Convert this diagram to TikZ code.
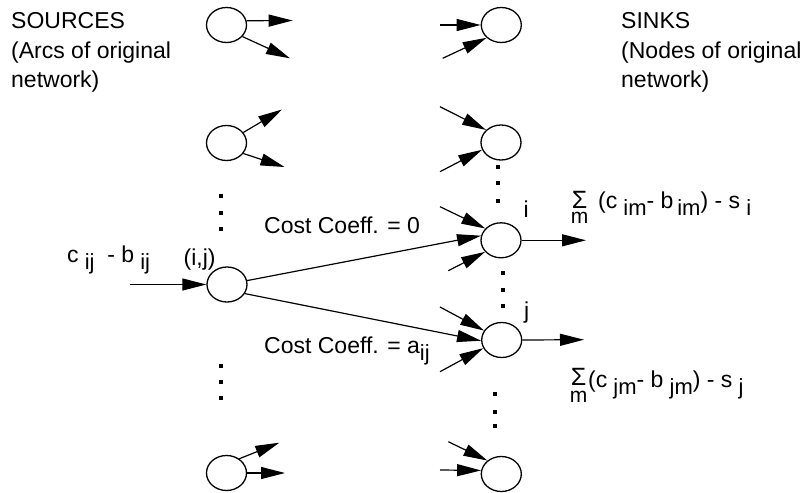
\documentclass[tikz,border=0pt]{standalone}
\usepackage{fontspec}
\setmainfont{Liberation Sans}
\usetikzlibrary{arrows.meta,shapes.geometric}
\newcommand{\dn}[1]{\raisebox{-7.5pt}{\fontsize{22}{22}\selectfont #1}}
\newcommand{\bigsig}{{\fontsize{25}{25}\selectfont Σ}}
\begin{document}
\begin{tikzpicture}[x=1pt,y=-1pt,
  ell/.style={draw, ellipse, line width=1.3pt, minimum width=40pt, minimum height=35pt, inner sep=0pt},
  arr/.style={line width=1.2pt, -{Triangle[length=24pt,width=12pt]}},
  lbl/.style={font=\fontsize{23}{29.5}\selectfont, inner sep=0pt},
  sumi/.style={font=\fontsize{21}{15}\selectfont, inner sep=0pt, align=center, anchor=north},
  sumj/.style={font=\fontsize{21}{17}\selectfont, inner sep=0pt, align=center, anchor=north},
  dotsq/.style={fill, rectangle, minimum size=4pt, inner sep=0pt}]
\useasboundingbox (0,0) rectangle (807,493);
% ellipses
\node[ell] (L1) at (226.5,25) {};
\node[ell] (L2) at (226.5,143) {};
\node[ell] (ij) at (227,284.5) {};
\node[ell] (L4) at (226.5,473) {};
\node[ell] (R1) at (501.3,25) {};
\node[ell] (R2) at (501,142.5) {};
\node[ell] (Ri) at (501,240.3) {};
\node[ell] (Rj) at (501.7,340) {};
\node[ell] (R5) at (501.3,474) {};
% free ends
\coordinate (a1) at (292.7,20.5);
\coordinate (a2) at (290,58.3);
\coordinate (a3) at (282,109.5);
\coordinate (a4) at (284.5,167);
\coordinate (a5) at (279.3,442.7);
\coordinate (a6) at (285,473);
\coordinate (b1) at (440,25);
\coordinate (b2) at (442.7,58.3);
\coordinate (b3) at (440,106.7);
\coordinate (b4) at (440,171.7);
\coordinate (b5) at (440,206.7);
\coordinate (b6) at (448.3,270.7);
\coordinate (b7) at (440,307);
\coordinate (b8) at (440,371.7);
\coordinate (b9) at (448.3,441.7);
\coordinate (b10) at (440,470);
\coordinate (oi) at (586,240.3);
\coordinate (oj) at (584,339.7);
\coordinate (in) at (130,284.5);
% source arrows
\draw[arr] (L1.12) -- (a1);
\draw[arr] (L1.-36) -- (a2);
\draw[arr] (L2.32) -- (a3);
\draw[arr] (L2.-32) -- (a4);
\draw[arr] (L4.48) -- (a5);
\draw[arr] (L4.east) -- (a6);
% sink arrows
\draw[arr] (b1) -- (R1.west);
\draw[arr] (b2) -- (R1.221);
\draw[arr] (b3) -- (R2.140);
\draw[arr] (b4) -- (R2.201);
\draw[arr] (b5) -- (Ri.143);
\draw[arr] (b6) -- (Ri.216);
\draw[arr] (b7) -- (Rj.152);
\draw[arr] (b8) -- (Rj.204);
\draw[arr] (b9) -- (R5.136);
\draw[arr] (b10) -- (R5.170);
\draw[arr] (Ri.east) -- (oi);
\draw[arr] (Rj.east) -- (oj);
% main edges
\draw[arr] (in) -- (ij.west);
\draw[arr] (ij.11) -- (Ri.167);
\draw[arr] (ij.-27) -- (Rj.182);
% dots
\node[dotsq] (d1) at (221,196) {};
\node[dotsq] (d2) at (221,212.5) {};
\node[dotsq] (d3) at (221,229) {};
\node[dotsq] (d4) at (221,366) {};
\node[dotsq] (d5) at (221,382) {};
\node[dotsq] (d6) at (221,397.5) {};
\node[dotsq] (d7) at (498.3,167) {};
\node[dotsq] (d8) at (498.3,183.3) {};
\node[dotsq] (d9) at (498.3,200.5) {};
\node[dotsq] (d10) at (503.3,273.3) {};
\node[dotsq] (d11) at (503.3,289.5) {};
\node[dotsq] (d12) at (503.3,306) {};
\node[dotsq] (d13) at (495,394) {};
\node[dotsq] (d14) at (495,411.7) {};
\node[dotsq] (d15) at (495,425.7) {};
% texts
\node[lbl, anchor=north west, align=left] (src) at (11,12.5) {SOURCES\\(Arcs of original\\network)};
\node[lbl, anchor=north west, align=left] (snk) at (621,12.5) {SINKS\\(Nodes of original\\network)};
\node[lbl, anchor=base west] (cb) at (67,262) {c\dn{\ ij}\ \ - b\dn{\ ij}};
\node[lbl, anchor=base west] (ijl) at (183.5,265) {(i,j)};
\node[lbl, anchor=base west] (c0) at (264,233) {Cost Coeff. = 0};
\node[lbl, anchor=base west] (ca) at (264,353) {Cost Coeff. = a\dn{ij}};
\node[lbl, anchor=base west] (il) at (523.5,217) {i};
\node[lbl, anchor=base west] (jl) at (524,318) {j};
\node[sumi] (si) at (579.5,191) {\bigsig\\m};
\node[lbl, anchor=base west] (fi) at (598,208) {(c\dn{\ im}- b\,\dn{im}) - s\dn{\ i}};
\node[sumj] (sj) at (578.5,368) {\bigsig\\m};
\node[lbl, anchor=base west] (fj) at (588,387) {(c\dn{\ jm}- b\dn{\ jm}) - s\dn{\ j}};
\end{tikzpicture}
\end{document}
